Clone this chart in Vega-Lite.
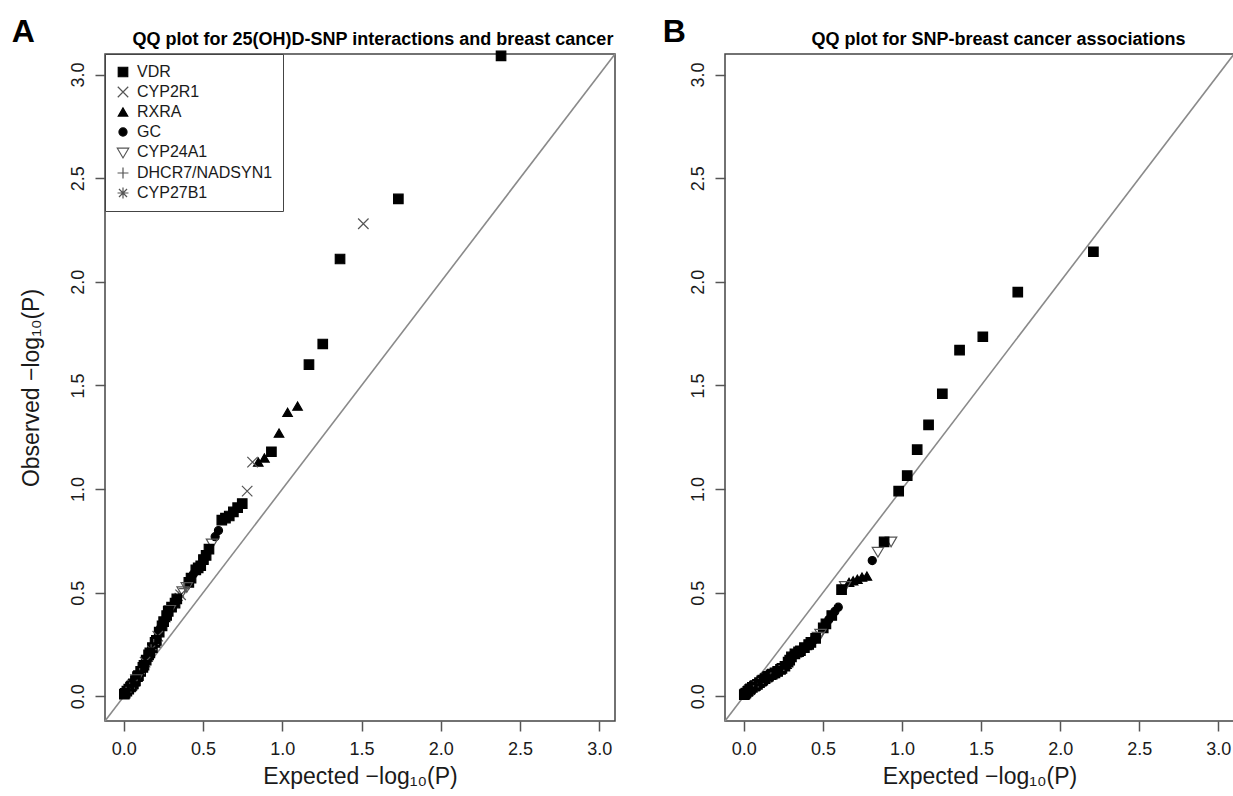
{
  "$schema": "https://vega.github.io/schema/vega-lite/v6.json",
  "padding": {"left": 10, "top": 15, "right": 0, "bottom": 0},
  "bounds": "flush",
  "spacing": 110,
  "datasets": {
    "a": [
      {"exp": 2.38, "obs": 3.09, "gene": "VDR"},
      {"exp": 1.732, "obs": 2.40, "gene": "VDR"},
      {"exp": 1.511, "obs": 2.28, "gene": "CYP2R1"},
      {"exp": 1.364, "obs": 2.11, "gene": "VDR"},
      {"exp": 1.255, "obs": 1.70, "gene": "VDR"},
      {"exp": 1.168, "obs": 1.60, "gene": "VDR"},
      {"exp": 1.096, "obs": 1.40, "gene": "RXRA"},
      {"exp": 1.033, "obs": 1.37, "gene": "RXRA"},
      {"exp": 0.979, "obs": 1.27, "gene": "RXRA"},
      {"exp": 0.931, "obs": 1.18, "gene": "VDR"},
      {"exp": 0.887, "obs": 1.15, "gene": "RXRA"},
      {"exp": 0.848, "obs": 1.13, "gene": "RXRA"},
      {"exp": 0.812, "obs": 1.13, "gene": "CYP2R1"},
      {"exp": 0.778, "obs": 0.99, "gene": "CYP2R1"},
      {"exp": 0.747, "obs": 0.93, "gene": "VDR"},
      {"exp": 0.718, "obs": 0.91, "gene": "VDR"},
      {"exp": 0.691, "obs": 0.89, "gene": "VDR"},
      {"exp": 0.665, "obs": 0.87, "gene": "VDR"},
      {"exp": 0.641, "obs": 0.86, "gene": "VDR"},
      {"exp": 0.618, "obs": 0.85, "gene": "VDR"},
      {"exp": 0.597, "obs": 0.80, "gene": "GC"},
      {"exp": 0.576, "obs": 0.77, "gene": "GC"},
      {"exp": 0.556, "obs": 0.74, "gene": "CYP24A1"},
      {"exp": 0.537, "obs": 0.71, "gene": "VDR"},
      {"exp": 0.519, "obs": 0.68, "gene": "VDR"},
      {"exp": 0.502, "obs": 0.66, "gene": "VDR"},
      {"exp": 0.485, "obs": 0.63, "gene": "VDR"},
      {"exp": 0.469, "obs": 0.62, "gene": "VDR"},
      {"exp": 0.454, "obs": 0.61, "gene": "VDR"},
      {"exp": 0.439, "obs": 0.59, "gene": "GC"},
      {"exp": 0.424, "obs": 0.57, "gene": "VDR"},
      {"exp": 0.410, "obs": 0.55, "gene": "VDR"},
      {"exp": 0.397, "obs": 0.53, "gene": "CYP24A1"},
      {"exp": 0.383, "obs": 0.52, "gene": "DHCR7/NADSYN1"},
      {"exp": 0.371, "obs": 0.51, "gene": "CYP24A1"},
      {"exp": 0.358, "obs": 0.49, "gene": "CYP2R1"},
      {"exp": 0.346, "obs": 0.48, "gene": "CYP27B1"},
      {"exp": 0.334, "obs": 0.47, "gene": "VDR"},
      {"exp": 0.323, "obs": 0.45, "gene": "VDR"},
      {"exp": 0.312, "obs": 0.44, "gene": "GC"},
      {"exp": 0.301, "obs": 0.43, "gene": "VDR"},
      {"exp": 0.290, "obs": 0.42, "gene": "CYP24A1"},
      {"exp": 0.280, "obs": 0.41, "gene": "VDR"},
      {"exp": 0.270, "obs": 0.39, "gene": "VDR"},
      {"exp": 0.260, "obs": 0.38, "gene": "RXRA"},
      {"exp": 0.251, "obs": 0.36, "gene": "VDR"},
      {"exp": 0.241, "obs": 0.34, "gene": "VDR"},
      {"exp": 0.232, "obs": 0.33, "gene": "GC"},
      {"exp": 0.223, "obs": 0.31, "gene": "VDR"},
      {"exp": 0.214, "obs": 0.29, "gene": "CYP2R1"},
      {"exp": 0.205, "obs": 0.27, "gene": "VDR"},
      {"exp": 0.197, "obs": 0.26, "gene": "VDR"},
      {"exp": 0.188, "obs": 0.25, "gene": "DHCR7/NADSYN1"},
      {"exp": 0.180, "obs": 0.235, "gene": "VDR"},
      {"exp": 0.172, "obs": 0.225, "gene": "CYP27B1"},
      {"exp": 0.164, "obs": 0.21, "gene": "VDR"},
      {"exp": 0.156, "obs": 0.20, "gene": "VDR"},
      {"exp": 0.149, "obs": 0.19, "gene": "RXRA"},
      {"exp": 0.141, "obs": 0.175, "gene": "VDR"},
      {"exp": 0.134, "obs": 0.165, "gene": "CYP2R1"},
      {"exp": 0.127, "obs": 0.15, "gene": "VDR"},
      {"exp": 0.120, "obs": 0.14, "gene": "VDR"},
      {"exp": 0.113, "obs": 0.13, "gene": "GC"},
      {"exp": 0.106, "obs": 0.12, "gene": "VDR"},
      {"exp": 0.099, "obs": 0.11, "gene": "DHCR7/NADSYN1"},
      {"exp": 0.092, "obs": 0.10, "gene": "VDR"},
      {"exp": 0.086, "obs": 0.095, "gene": "VDR"},
      {"exp": 0.079, "obs": 0.085, "gene": "CYP24A1"},
      {"exp": 0.073, "obs": 0.075, "gene": "VDR"},
      {"exp": 0.067, "obs": 0.07, "gene": "RXRA"},
      {"exp": 0.060, "obs": 0.06, "gene": "VDR"},
      {"exp": 0.054, "obs": 0.055, "gene": "CYP2R1"},
      {"exp": 0.048, "obs": 0.05, "gene": "VDR"},
      {"exp": 0.042, "obs": 0.045, "gene": "VDR"},
      {"exp": 0.036, "obs": 0.04, "gene": "DHCR7/NADSYN1"},
      {"exp": 0.031, "obs": 0.035, "gene": "VDR"},
      {"exp": 0.025, "obs": 0.03, "gene": "GC"},
      {"exp": 0.019, "obs": 0.025, "gene": "VDR"},
      {"exp": 0.014, "obs": 0.02, "gene": "CYP27B1"},
      {"exp": 0.008, "obs": 0.015, "gene": "VDR"},
      {"exp": 0.003, "obs": 0.01, "gene": "VDR"}
    ],
    "b": [
      {"exp": 2.21, "obs": 2.145, "gene": "VDR"},
      {"exp": 1.732, "obs": 1.95, "gene": "VDR"},
      {"exp": 1.511, "obs": 1.735, "gene": "VDR"},
      {"exp": 1.364, "obs": 1.67, "gene": "VDR"},
      {"exp": 1.255, "obs": 1.46, "gene": "VDR"},
      {"exp": 1.168, "obs": 1.31, "gene": "VDR"},
      {"exp": 1.096, "obs": 1.19, "gene": "VDR"},
      {"exp": 1.033, "obs": 1.065, "gene": "VDR"},
      {"exp": 0.979, "obs": 0.99, "gene": "VDR"},
      {"exp": 0.931, "obs": 0.75, "gene": "CYP24A1"},
      {"exp": 0.887, "obs": 0.745, "gene": "VDR"},
      {"exp": 0.848, "obs": 0.70, "gene": "CYP24A1"},
      {"exp": 0.812, "obs": 0.655, "gene": "GC"},
      {"exp": 0.778, "obs": 0.58, "gene": "RXRA"},
      {"exp": 0.747, "obs": 0.575, "gene": "RXRA"},
      {"exp": 0.718, "obs": 0.565, "gene": "RXRA"},
      {"exp": 0.691, "obs": 0.557, "gene": "RXRA"},
      {"exp": 0.665, "obs": 0.55, "gene": "RXRA"},
      {"exp": 0.641, "obs": 0.535, "gene": "CYP24A1"},
      {"exp": 0.618, "obs": 0.515, "gene": "VDR"},
      {"exp": 0.597, "obs": 0.43, "gene": "GC"},
      {"exp": 0.576, "obs": 0.41, "gene": "GC"},
      {"exp": 0.556, "obs": 0.39, "gene": "VDR"},
      {"exp": 0.537, "obs": 0.37, "gene": "GC"},
      {"exp": 0.519, "obs": 0.35, "gene": "VDR"},
      {"exp": 0.502, "obs": 0.33, "gene": "VDR"},
      {"exp": 0.485, "obs": 0.305, "gene": "CYP24A1"},
      {"exp": 0.469, "obs": 0.29, "gene": "CYP24A1"},
      {"exp": 0.454, "obs": 0.28, "gene": "VDR"},
      {"exp": 0.439, "obs": 0.27, "gene": "GC"},
      {"exp": 0.424, "obs": 0.26, "gene": "VDR"},
      {"exp": 0.410, "obs": 0.25, "gene": "VDR"},
      {"exp": 0.397, "obs": 0.245, "gene": "RXRA"},
      {"exp": 0.383, "obs": 0.235, "gene": "VDR"},
      {"exp": 0.371, "obs": 0.225, "gene": "GC"},
      {"exp": 0.358, "obs": 0.22, "gene": "VDR"},
      {"exp": 0.346, "obs": 0.215, "gene": "VDR"},
      {"exp": 0.334, "obs": 0.21, "gene": "RXRA"},
      {"exp": 0.323, "obs": 0.205, "gene": "VDR"},
      {"exp": 0.312, "obs": 0.20, "gene": "GC"},
      {"exp": 0.301, "obs": 0.19, "gene": "VDR"},
      {"exp": 0.290, "obs": 0.175, "gene": "VDR"},
      {"exp": 0.280, "obs": 0.165, "gene": "VDR"},
      {"exp": 0.270, "obs": 0.155, "gene": "RXRA"},
      {"exp": 0.260, "obs": 0.145, "gene": "VDR"},
      {"exp": 0.251, "obs": 0.14, "gene": "GC"},
      {"exp": 0.241, "obs": 0.135, "gene": "VDR"},
      {"exp": 0.232, "obs": 0.13, "gene": "VDR"},
      {"exp": 0.223, "obs": 0.125, "gene": "DHCR7/NADSYN1"},
      {"exp": 0.214, "obs": 0.12, "gene": "VDR"},
      {"exp": 0.205, "obs": 0.117, "gene": "GC"},
      {"exp": 0.197, "obs": 0.113, "gene": "VDR"},
      {"exp": 0.188, "obs": 0.11, "gene": "RXRA"},
      {"exp": 0.180, "obs": 0.107, "gene": "VDR"},
      {"exp": 0.172, "obs": 0.104, "gene": "VDR"},
      {"exp": 0.164, "obs": 0.10, "gene": "GC"},
      {"exp": 0.156, "obs": 0.097, "gene": "VDR"},
      {"exp": 0.149, "obs": 0.094, "gene": "VDR"},
      {"exp": 0.141, "obs": 0.09, "gene": "CYP2R1"},
      {"exp": 0.134, "obs": 0.085, "gene": "VDR"},
      {"exp": 0.127, "obs": 0.082, "gene": "GC"},
      {"exp": 0.120, "obs": 0.078, "gene": "VDR"},
      {"exp": 0.113, "obs": 0.075, "gene": "VDR"},
      {"exp": 0.106, "obs": 0.07, "gene": "RXRA"},
      {"exp": 0.099, "obs": 0.066, "gene": "VDR"},
      {"exp": 0.092, "obs": 0.062, "gene": "DHCR7/NADSYN1"},
      {"exp": 0.086, "obs": 0.058, "gene": "VDR"},
      {"exp": 0.079, "obs": 0.055, "gene": "GC"},
      {"exp": 0.073, "obs": 0.052, "gene": "VDR"},
      {"exp": 0.067, "obs": 0.049, "gene": "VDR"},
      {"exp": 0.060, "obs": 0.046, "gene": "CYP27B1"},
      {"exp": 0.054, "obs": 0.043, "gene": "VDR"},
      {"exp": 0.048, "obs": 0.04, "gene": "GC"},
      {"exp": 0.042, "obs": 0.036, "gene": "VDR"},
      {"exp": 0.036, "obs": 0.032, "gene": "VDR"},
      {"exp": 0.031, "obs": 0.028, "gene": "CYP2R1"},
      {"exp": 0.025, "obs": 0.024, "gene": "VDR"},
      {"exp": 0.019, "obs": 0.02, "gene": "GC"},
      {"exp": 0.014, "obs": 0.016, "gene": "VDR"},
      {"exp": 0.008, "obs": 0.012, "gene": "VDR"},
      {"exp": 0.003, "obs": 0.008, "gene": "VDR"}
    ]
  },
  "config": {
    "font": "Liberation Sans",
    "view": {"stroke": "#444", "strokeWidth": 1.5},
    "axis": {
      "grid": false, "domain": false,
      "tickColor": "#555", "tickWidth": 1.5, "tickSize": 10,
      "labelFont": "Liberation Sans", "labelFontSize": 18, "labelColor": "#1a1a1a",
      "titleFont": "Liberation Sans", "titleFontSize": 23, "titleFontWeight": "normal", "titleColor": "#1a1a1a",
      "labelOverlap": false
    },
    "axisX": {"labelPadding": 9, "titlePadding": 7},
    "axisY": {"labelAngle": 270, "labelAlign": "center", "labelBaseline": "alphabetic", "labelPadding": 12, "titlePadding": 26},
    "title": {"font": "Liberation Sans", "fontSize": 18, "fontWeight": "bold", "color": "#000", "anchor": "middle", "baseline": "alphabetic", "offset": -33},
    "legend": {
      "orient": "top-left", "offset": 0, "padding": 10,
      "strokeColor": "#444", "fillColor": "white",
      "labelFont": "Liberation Sans", "labelFontSize": 16, "labelColor": "#1a1a1a",
      "symbolStrokeWidth": 1.2, "rowPadding": 4, "labelOffset": 6, "symbolSize": 90
    }
  },
  "resolve": {
    "scale": {"x": "independent", "y": "independent", "fill": "independent", "stroke": "independent", "shape": "independent"},
    "legend": {"fill": "independent", "stroke": "independent", "shape": "independent"}
  },
  "hconcat": [
    {
      "width": 510,
      "height": 667,
      "title": {"text": "QQ plot for 25(OH)D-SNP interactions and breast cancer", "dx": 13},
      "layer": [
        {
          "data": {"values": [{}]},
          "mark": {"type": "rule", "color": "#8a8a8a", "strokeWidth": 1.6},
          "encoding": {
            "x": {"datum": -0.119, "type": "quantitative", "title": "Expected  \u2212log\u2081\u2080(P)", "scale": {"domain": [-0.119, 3.099], "nice": false, "zero": false}},
            "y": {"datum": -0.119, "type": "quantitative", "title": "Observed  \u2212log\u2081\u2080(P)", "scale": {"domain": [-0.119, 3.099], "nice": false, "zero": false}},
            "x2": {"datum": 3.099},
            "y2": {"datum": 3.099}
          }
        },
        {
          "data": {"name": "a"},
          "mark": {"type": "point", "opacity": 1, "strokeWidth": 1.2, "size": 90},
          "encoding": {
            "x": {"field": "exp", "type": "quantitative", "title": "Expected  \u2212log\u2081\u2080(P)", "scale": {"domain": [-0.119, 3.099], "nice": false, "zero": false}, "axis": {"values": [0, 0.5, 1, 1.5, 2, 2.5, 3], "format": ".1f"}},
            "y": {"field": "obs", "type": "quantitative", "title": "Observed  \u2212log\u2081\u2080(P)", "scale": {"domain": [-0.119, 3.099], "nice": false, "zero": false}, "axis": {"values": [0, 0.5, 1, 1.5, 2, 2.5, 3], "format": ".1f"}},
            "shape": {"field": "gene", "type": "nominal", "scale": {"domain": ["VDR", "CYP2R1", "RXRA", "GC", "CYP24A1", "DHCR7/NADSYN1", "CYP27B1"], "range": ["square", "M-1.1,-1.1L1.1,1.1M-1.1,1.1L1.1,-1.1", "triangle-up", "M0.85,0A0.85,0.85,0,1,1,-0.85,0A0.85,0.85,0,1,1,0.85,0Z", "M-1.2,-0.8L1.2,-0.8L0,1.25Z", "M-1.15,0L1.15,0M0,-1.15L0,1.15", "M-1.15,0L1.15,0M0,-1.15L0,1.15M-0.85,-0.85L0.85,0.85M-0.85,0.85L0.85,-0.85"]}, "legend": {"title": null}},
            "fill": {"field": "gene", "type": "nominal", "scale": {"domain": ["VDR", "CYP2R1", "RXRA", "GC", "CYP24A1", "DHCR7/NADSYN1", "CYP27B1"], "range": ["#000000", "transparent", "#000000", "#000000", "transparent", "transparent", "transparent"]}, "legend": {"title": null}},
            "stroke": {"field": "gene", "type": "nominal", "scale": {"domain": ["VDR", "CYP2R1", "RXRA", "GC", "CYP24A1", "DHCR7/NADSYN1", "CYP27B1"], "range": ["#000000", "#555555", "#000000", "#000000", "#555555", "#555555", "#555555"]}, "legend": {"title": null}}
          }
        },
        {
          "data": {"values": [{}]},
          "mark": {"type": "text", "text": "A", "fontSize": 32, "fontWeight": "bold", "align": "center", "baseline": "alphabetic", "color": "#000"},
          "encoding": {
            "x": {"datum": -0.635, "type": "quantitative", "title": "Expected  \u2212log\u2081\u2080(P)"},
            "y": {"datum": 3.157, "type": "quantitative", "title": "Observed  \u2212log\u2081\u2080(P)"}
          }
        }
      ]
    },
    {
      "width": 509,
      "height": 667,
      "title": {"text": "QQ plot for SNP-breast cancer associations", "dx": 19},
      "layer": [
        {
          "data": {"values": [{}]},
          "mark": {"type": "rule", "color": "#8a8a8a", "strokeWidth": 1.6},
          "encoding": {
            "x": {"datum": -0.119, "type": "quantitative", "title": "Expected  \u2212log\u2081\u2080(P)", "scale": {"domain": [-0.119, 3.099], "nice": false, "zero": false}},
            "y": {"datum": -0.119, "type": "quantitative", "title": null, "scale": {"domain": [-0.119, 3.099], "nice": false, "zero": false}},
            "x2": {"datum": 3.099},
            "y2": {"datum": 3.099}
          }
        },
        {
          "data": {"name": "b"},
          "mark": {"type": "point", "opacity": 1, "strokeWidth": 1.2, "size": 90},
          "encoding": {
            "x": {"field": "exp", "type": "quantitative", "title": "Expected  \u2212log\u2081\u2080(P)", "scale": {"domain": [-0.119, 3.099], "nice": false, "zero": false}, "axis": {"values": [0, 0.5, 1, 1.5, 2, 2.5, 3], "format": ".1f"}},
            "y": {"field": "obs", "type": "quantitative", "title": null, "scale": {"domain": [-0.119, 3.099], "nice": false, "zero": false}, "axis": {"values": [0, 0.5, 1, 1.5, 2, 2.5, 3], "format": ".1f"}},
            "shape": {"field": "gene", "type": "nominal", "scale": {"domain": ["VDR", "CYP2R1", "RXRA", "GC", "CYP24A1", "DHCR7/NADSYN1", "CYP27B1"], "range": ["square", "M-1.1,-1.1L1.1,1.1M-1.1,1.1L1.1,-1.1", "triangle-up", "M0.85,0A0.85,0.85,0,1,1,-0.85,0A0.85,0.85,0,1,1,0.85,0Z", "M-1.2,-0.8L1.2,-0.8L0,1.25Z", "M-1.15,0L1.15,0M0,-1.15L0,1.15", "M-1.15,0L1.15,0M0,-1.15L0,1.15M-0.85,-0.85L0.85,0.85M-0.85,0.85L0.85,-0.85"]}, "legend": null},
            "fill": {"field": "gene", "type": "nominal", "scale": {"domain": ["VDR", "CYP2R1", "RXRA", "GC", "CYP24A1", "DHCR7/NADSYN1", "CYP27B1"], "range": ["#000000", "transparent", "#000000", "#000000", "transparent", "transparent", "transparent"]}, "legend": null},
            "stroke": {"field": "gene", "type": "nominal", "scale": {"domain": ["VDR", "CYP2R1", "RXRA", "GC", "CYP24A1", "DHCR7/NADSYN1", "CYP27B1"], "range": ["#000000", "#555555", "#000000", "#000000", "#555555", "#555555", "#555555"]}, "legend": null}
          }
        },
        {
          "data": {"values": [{}]},
          "mark": {"type": "text", "text": "B", "fontSize": 32, "fontWeight": "bold", "align": "center", "baseline": "alphabetic", "color": "#000"},
          "encoding": {
            "x": {"datum": -0.44, "type": "quantitative", "title": "Expected  \u2212log\u2081\u2080(P)"},
            "y": {"datum": 3.157, "type": "quantitative", "title": null}
          }
        }
      ]
    }
  ]
}
